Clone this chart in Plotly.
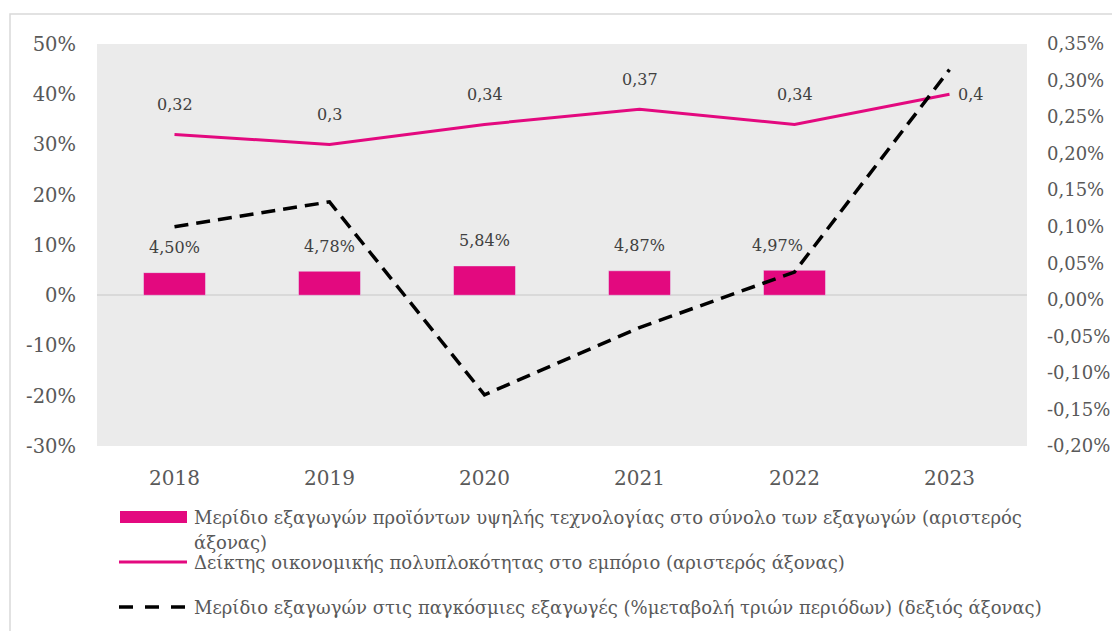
import plotly.graph_objects as go

years = ["2018", "2019", "2020", "2021", "2022", "2023"]

# share of high-tech exports in total exports (left axis, fraction)
hitech_share = [0.0450, 0.0478, 0.0584, 0.0487, 0.0497, None]
# economic complexity index (left axis)
eci = [0.32, 0.30, 0.34, 0.37, 0.34, 0.40]
# share in world exports, 3-period % change (right axis, in %)
world_share_chg = [0.100, 0.134, -0.130, -0.038, 0.038, 0.315]

left_ticks = [-0.3, -0.2, -0.1, 0.0, 0.1, 0.2, 0.3, 0.4, 0.5]
right_ticks = [-0.20, -0.15, -0.10, -0.05, 0.0, 0.05, 0.10, 0.15, 0.20, 0.25, 0.30, 0.35]

names = [
    "Μερίδιο εξαγωγών προϊόντων υψηλής τεχνολογίας στο σύνολο των εξαγωγών (αριστερός<br>άξονας)",
    "Δείκτης οικονομικής πολυπλοκότητας στο εμπόριο (αριστερός άξονας)",
    "Μερίδιο εξαγωγών στις παγκόσμιες εξαγωγές (%μεταβολή τριών περιόδων) (δεξιός άξονας)",
]

PINK = "#E3097F"
FONT = "DejaVu Serif"
LABEL = dict(family=FONT, size=16, color="#404040")

# page has an 8px body margin, so the figure is a bit smaller than the window
OFF = 8
W, H = 1120 - OFF, 631 - OFF
# plot area in page pixels, used to place legend/border in paper coords
L, R, T, B = 97, 1027, 44, 446
def px(x):
    return (x - L) / (R - L)
def py(y):
    return (B - y) / (B - T)

def comma(v, fmt):
    return format(v, fmt).replace(".", ",")

fig = go.Figure()

fig.add_trace(go.Bar(
    x=years, y=hitech_share, marker_color=PINK, width=0.4,
    showlegend=False,
))

fig.add_trace(go.Scatter(
    x=years, y=eci, mode="lines", line=dict(color=PINK, width=3),
    showlegend=False,
))

fig.add_trace(go.Scatter(
    x=years, y=world_share_chg, mode="lines", yaxis="y2",
    line=dict(color="black", width=3.5, dash="14px,8px"),
    showlegend=False,
))

# bar labels (x given as category index); 2022 label nudged left like the original
for i, v in enumerate(hitech_share):
    if v is None:
        continue
    fig.add_annotation(
        x=i, y=v, text=comma(v * 100, ".2f") + "%", showarrow=False,
        yanchor="middle", yshift=25, xshift=-17 if i == 4 else 0, font=LABEL,
    )

# data labels for the complexity index line
for i, v in enumerate(eci):
    last = i == len(eci) - 1
    fig.add_annotation(
        x=i, y=v, text=comma(v, "g"), showarrow=False,
        xanchor="left" if last else "center",
        xshift=6 if last else 0, yshift=0 if last else 30,
        font=LABEL,
    )

# legend drawn by hand to mimic the Excel layout
fig.add_shape(type="rect", xref="paper", yref="paper",
              x0=px(120), x1=px(187), y0=py(523), y1=py(511),
              fillcolor=PINK, line_width=0)
fig.add_shape(type="line", xref="paper", yref="paper",
              x0=px(119), x1=px(187), y0=py(562), y1=py(562),
              line=dict(color=PINK, width=3))
fig.add_shape(type="line", xref="paper", yref="paper",
              x0=px(119), x1=px(187), y0=py(607), y1=py(607),
              line=dict(color="black", width=3.5, dash="14px,12px"))
legend_rows = names[0].split("<br>") + names[1:]
for name, ypos in zip(legend_rows, [517, 542, 562, 607]):
    fig.add_annotation(xref="paper", yref="paper", x=px(192), y=py(ypos),
                       xanchor="left", yanchor="middle", showarrow=False,
                       text=name, font=dict(family=FONT, size=18, color="#595959"))

# outer chart border
fig.add_shape(type="rect", xref="paper", yref="paper",
              x0=px(10), x1=px(1130), y0=py(640), y1=py(14),
              line=dict(color="#D9D9D9", width=1.5), layer="below")

fig.update_layout(
    width=W, height=H,
    margin=dict(l=L - OFF, r=W - (R - OFF), t=T - OFF, b=H - (B - OFF)),
    paper_bgcolor="white", plot_bgcolor="#EBEBEB",
    separators=",.",
    bargap=0.6,
    xaxis=dict(type="category", range=[-0.5, len(years) - 0.5],
               showgrid=False, ticks="", showline=False,
               automargin=False, ticklabelstandoff=18,
               tickfont=dict(family=FONT, size=20, color="#595959")),
    yaxis=dict(range=[-0.3, 0.5], tickvals=left_ticks,
               ticktext=[format(v, ".0%") for v in left_ticks],
               showgrid=False, zeroline=True, zerolinecolor="#D9D9D9", zerolinewidth=2,
               ticklabelstandoff=20, automargin=False,
               tickfont=dict(family=FONT, size=19.5, color="#595959")),
    yaxis2=dict(range=[-0.20, 0.35], overlaying="y", side="right",
                tickvals=right_ticks,
                ticktext=[comma(v, ".2f") + "%" for v in right_ticks],
                showgrid=False, zeroline=False, ticklabelstandoff=19, automargin=False,
                tickfont=dict(family=FONT, size=18, color="#595959")),
)

fig.write_html("out.html")
